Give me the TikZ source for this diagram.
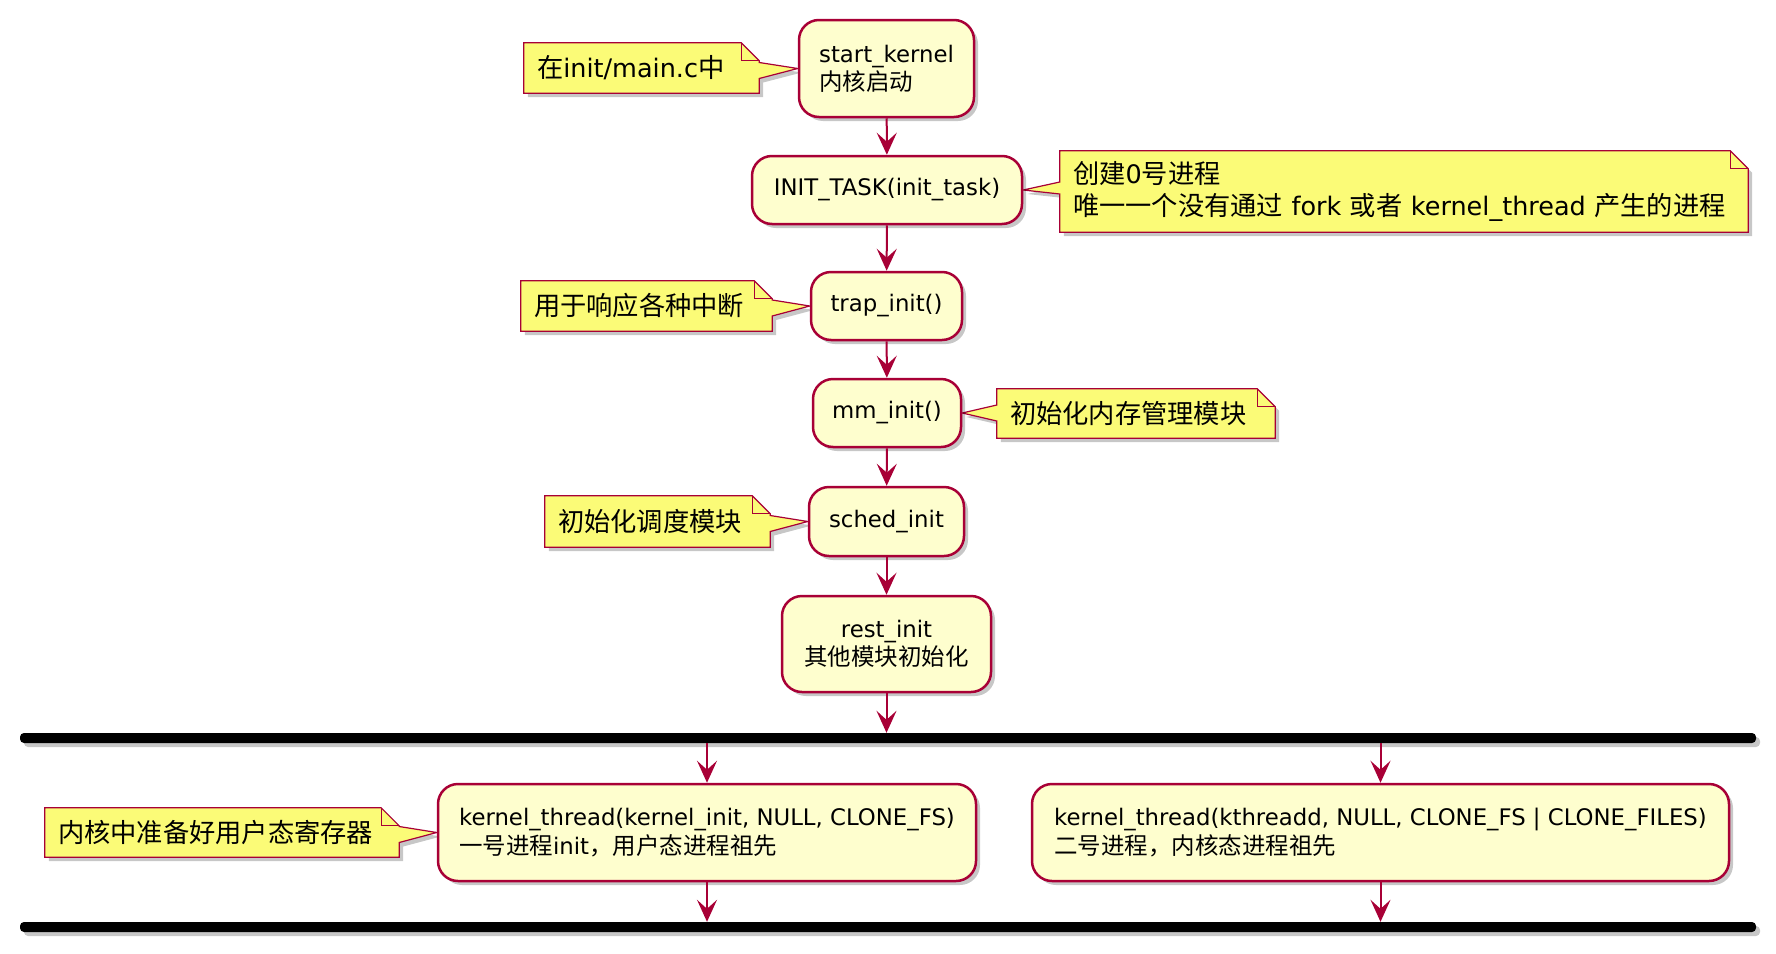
\documentclass[tikz,border=0pt]{standalone}
\usepackage{fontspec}
\setmainfont{DejaVu Sans}
\newfontfamily\cjkfont[Scale=1.03]{Noto Sans CJK SC}
\newcommand\zh[1]{{\cjkfont #1}}
\usetikzlibrary{arrows.meta,shadows,calc,backgrounds}
\definecolor{actfill}{HTML}{FEFECE}
\definecolor{actline}{HTML}{A80036}
\definecolor{notefill}{HTML}{FBFB77}
\tikzset{
  shad/.style={drop shadow={shadow xshift=4pt, shadow yshift=-4pt, fill=black, opacity=0.22}},
  act/.style={draw=actline, fill=actfill, line width=2.5pt, rounded corners=20pt, inner sep=0pt,
    font=\fontsize{22.8}{28.3}\selectfont, shad},
  notetext/.style={inner xsep=13pt, inner ysep=0pt, align=left, font=\fontsize{25.5}{31.7}\selectfont},
  notebody/.style={draw=actline, fill=notefill, line width=1.2pt, shad},
  foldline/.style={draw=actline, line width=1.2pt},
  flow/.style={draw=actline, line width=2pt, -{Stealth[length=22pt,width=20pt,inset=9pt]}},
  syncbar/.style={fill=black, rounded corners=4pt, inner sep=0pt, minimum height=10pt, minimum width=1736pt, shad}
}
% right-pointing note: #1 note node, #2 tip, #3 upper offset, #4 lower offset
\newcommand\noteRight[4]{%
  \path[notebody] (#1.north west) -- ([xshift=-18pt]#1.north east) -- ([yshift=-18pt]#1.north east)
    -- ($(#1.east |- #2)+(0,#3)$) -- (#2) -- ($(#1.east |- #2)+(0,-#4)$)
    -- (#1.south east) -- (#1.south west) -- cycle;
  \path[foldline] ([xshift=-18pt]#1.north east) |- ([yshift=-18pt]#1.north east);
}
\newcommand\noteLeft[4]{%
  \path[notebody] (#1.north west) -- ([xshift=-18pt]#1.north east) -- ([yshift=-18pt]#1.north east)
    -- (#1.south east) -- (#1.south west) -- ($(#1.west |- #2)+(0,-#4)$) -- (#2)
    -- ($(#1.west |- #2)+(0,#3)$) -- cycle;
  \path[foldline] ([xshift=-18pt]#1.north east) |- ([yshift=-18pt]#1.north east);
}
\begin{document}
\begin{tikzpicture}[x=1pt,y=1pt]
\useasboundingbox (0,0) rectangle (1776,-953);

% activity boxes
\node[act, minimum width=175pt, minimum height=97pt, align=left] (sk) at (886.5,-68.5)
  {start\_kernel\\\zh{内核启动}};
\node[act, minimum width=270pt, minimum height=68pt] (it) at (887,-190) {INIT\_TASK(init\_task)};
\node[act, minimum width=151pt, minimum height=68pt] (ti) at (886.5,-306) {trap\_init()};
\node[act, minimum width=148pt, minimum height=68pt] (mm) at (887,-413) {mm\_init()};
\node[act, minimum width=155pt, minimum height=69pt] (si) at (886.5,-521.5) {sched\_init};
\node[act, minimum width=209pt, minimum height=96pt, align=center] (ri) at (886.5,-644)
  {rest\_init\\\zh{其他模块初始化}};
\node[syncbar] (bar1) at (888,-738) {};
\node[act, minimum width=538pt, minimum height=97pt, align=left] (lk) at (707,-832.5)
  {kernel\_thread(kernel\_init, NULL, CLONE\_FS)\\\zh{一号进程}init\zh{，用户态进程祖先}};
\node[act, minimum width=697pt, minimum height=97pt, align=left] (rk) at (1380.5,-832.5)
  {kernel\_thread(kthreadd, NULL, CLONE\_FS \textbar{} CLONE\_FILES)\\\zh{二号进程，内核态进程祖先}};
\node[syncbar] (bar2) at (888,-927) {};

% notes text
\node[notetext, minimum width=235pt, minimum height=50pt, text width=209pt] (n1) at (641.5,-68)
  {\zh{在}init/main.c\zh{中}};
\node[notetext, minimum width=688pt, minimum height=81pt, text width=662pt] (n2) at (1404,-191.5)
  {\zh{创建}0\zh{号进程}\\\mbox{\zh{唯一一个没有通过} fork \zh{或者} kernel\_thread \zh{产生的进程}}};
\node[notetext, minimum width=251pt, minimum height=50pt, text width=225pt] (n3) at (646.5,-306)
  {\zh{用于响应各种中断}};
\node[notetext, minimum width=278pt, minimum height=49pt, text width=252pt] (n4) at (1136,-413.5)
  {\zh{初始化内存管理模块}};
\node[notetext, minimum width=225pt, minimum height=51pt, text width=199pt] (n5) at (657.5,-521.5)
  {\zh{初始化调度模块}};
\node[notetext, minimum width=354pt, minimum height=49pt, text width=328pt] (n6) at (222,-832.5)
  {\zh{内核中准备好用户态寄存器}};

\begin{pgfonlayer}{background}
  \noteRight{n1}{sk.west}{6pt}{10pt}
  \noteLeft{n2}{it.east}{8pt}{4pt}
  \noteRight{n3}{ti.west}{6pt}{10pt}
  \noteLeft{n4}{mm.east}{8pt}{8pt}
  \noteRight{n5}{si.west}{6pt}{10pt}
  \noteRight{n6}{lk.west}{6pt}{10pt}
\end{pgfonlayer}

% connectors
\draw[flow] (sk) -- (it);
\draw[flow] (it) -- (ti);
\draw[flow] (ti) -- (mm);
\draw[flow] (mm) -- (si);
\draw[flow] (si) -- (ri);
\draw[flow] (ri.south) -- (ri.south |- bar1.north);
\draw[flow] (bar1.south -| lk) -- (lk.north);
\draw[flow] (bar1.south -| rk) -- (rk.north);
\draw[flow] (lk.south) -- (lk.south |- bar2.north);
\draw[flow] (rk.south) -- (rk.south |- bar2.north);
\end{tikzpicture}
\end{document}
